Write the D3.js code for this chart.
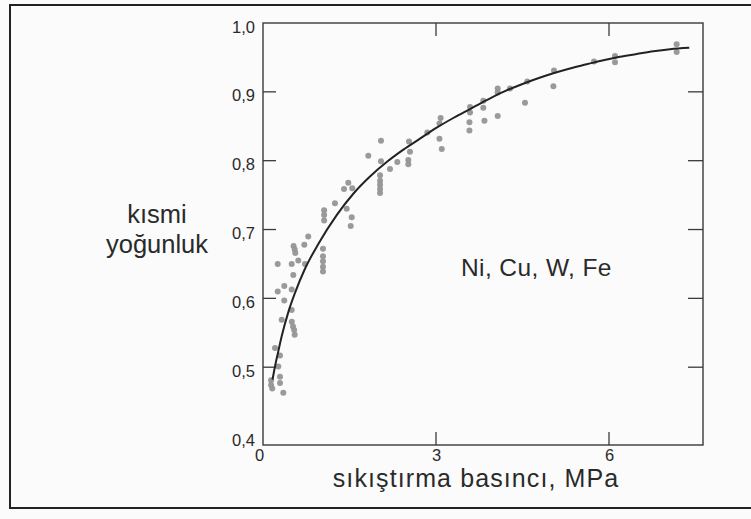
<!DOCTYPE html>
<html>
<head>
<meta charset="utf-8">
<script src="https://cdn.jsdelivr.net/npm/d3@7"></script>
<style>
  html, body { margin: 0; padding: 0; background: #fbfbfb; }
  svg { display: block; }
  text { font-family: "Liberation Sans", Arial, sans-serif; fill: #2a2a2a; }
</style>
</head>
<body>
<svg id="chart" width="751" height="519"></svg>
<script>
// Measured points: compaction pressure (MPa) and fractional density
const pressure = [
  0.14, 0.14, 0.16, 0.295, 0.295, 0.352, 0.265, 0.295, 0.208,
  0.50, 0.52, 0.54, 0.55, 0.324, 0.498, 0.369, 0.255, 0.498, 0.369, 0.525,
  0.255, 0.498, 0.728, 0.612, 0.53, 0.55, 0.56, 0.716, 0.785,
  1.04, 1.04, 1.04, 1.04, 1.04, 1.06, 1.06, 1.06,
  1.248, 1.405, 1.479, 1.548, 1.451, 1.538, 1.521,
  1.826, 2.046, 2.046, 2.03, 2.03, 2.03, 2.03, 2.03,
  2.202, 2.329, 2.532, 2.549, 2.52, 2.52,
  2.849, 3.06, 3.08, 3.06, 3.10,
  3.59, 3.59, 3.58, 3.58, 3.82, 3.82, 3.84,
  4.07, 4.07, 4.07, 4.283, 4.543, 4.583,
  5.046, 5.035, 5.74, 6.104, 6.104, 7.173, 7.173
];
const density = [
  0.481, 0.474, 0.469, 0.486, 0.477, 0.463, 0.501, 0.517, 0.528,
  0.566, 0.559, 0.554, 0.547, 0.569, 0.583, 0.597, 0.610, 0.613, 0.618, 0.634,
  0.650, 0.650, 0.650, 0.655, 0.676, 0.671, 0.666, 0.678, 0.690,
  0.672, 0.661, 0.654, 0.646, 0.639, 0.728, 0.721, 0.713,
  0.738, 0.759, 0.768, 0.760, 0.730, 0.718, 0.705,
  0.807, 0.829, 0.799, 0.779, 0.771, 0.765, 0.759, 0.753,
  0.788, 0.798, 0.828, 0.813, 0.801, 0.795,
  0.841, 0.854, 0.862, 0.832, 0.817,
  0.878, 0.870, 0.856, 0.844, 0.887, 0.877, 0.858,
  0.905, 0.899, 0.865, 0.905, 0.884, 0.915,
  0.931, 0.908, 0.944, 0.952, 0.943, 0.969, 0.958
];

// Smooth trend line through the data
const fitPressure = [
  0.165, 0.208, 0.265, 0.324, 0.439, 0.555, 0.728, 0.959, 1.278, 1.566,
  1.855, 2.145, 2.434, 2.722, 3.012, 3.30, 3.589, 3.879, 4.167, 4.456,
  4.746, 5.034, 5.323, 5.613, 5.901, 6.19, 6.48, 6.768, 7.058, 7.392
];
const fitDensity = [
  0.482, 0.501, 0.523, 0.545, 0.580, 0.608, 0.643, 0.679, 0.721, 0.752,
  0.777, 0.798, 0.816, 0.832, 0.848, 0.862, 0.875, 0.888, 0.900, 0.910,
  0.919, 0.927, 0.934, 0.940, 0.946, 0.951, 0.955, 0.959, 0.962, 0.964
];

const yTickValues = [0.4, 0.5, 0.6, 0.7, 0.8, 0.9, 1.0];
const yInnerTicks = [0.5, 0.6, 0.7, 0.8, 0.9];
const xTickValues = [0, 3, 6];
const xInnerTicks = [3, 6];

const yTitle = ["kısmi", "yoğunluk"];
const xTitle = "sıkıştırma basıncı, MPa";
const seriesNote = "Ni, Cu, W, Fe";

const svg = d3.select("#chart");

const x = d3.scaleLinear().domain([0, 7.63]).range([263, 703]);
const y = d3.scaleLinear().domain([0.387, 1.0]).range([445, 23]);

const comma = d3.formatLocale({ decimal: ",", thousands: ".", grouping: [3], currency: ["", ""] });
const fmtY = comma.format(".1f");

// outer figure border
svg.append("rect")
  .attr("x", 10).attr("y", 5)
  .attr("width", 760).attr("height", 503)
  .attr("fill", "none").attr("stroke", "#222").attr("stroke-width", 2);

// plot frame
const [x0, x1] = x.range();
const [yb, yt] = y.range();
svg.append("rect")
  .attr("x", x0).attr("y", yt)
  .attr("width", x1 - x0).attr("height", yb - yt)
  .attr("fill", "none").attr("stroke", "#3a3a3a").attr("stroke-width", 1.4);

// y axis labels
const yAxis = d3.axisLeft(y).tickValues(yTickValues).tickSize(0).tickPadding(8).tickFormat(fmtY);
const gy = svg.append("g").attr("transform", `translate(${x0},0)`).call(yAxis);
gy.select(".domain").remove();
gy.selectAll("text").attr("font-size", 16.5).attr("dy", "0.55em").style("font-family", '"Liberation Sans", Arial, sans-serif').attr("fill", "#2a2a2a");

// x axis labels
const xAxis = d3.axisBottom(x).tickValues(xTickValues).tickSize(0).tickPadding(4).tickFormat(d3.format("d"));
const gx = svg.append("g").attr("transform", `translate(0,${yb})`).call(xAxis);
gx.select(".domain").remove();
gx.selectAll("text").attr("font-size", 16.5).attr("dx", d => d === 0 ? -4 : 0).style("font-family", '"Liberation Sans", Arial, sans-serif').attr("fill", "#2a2a2a");

// inward tick marks on all four sides
const tickLen = 13;
const ticks = svg.append("g").attr("stroke", "#3a3a3a").attr("stroke-width", 1.3);
yInnerTicks.forEach(v => {
  ticks.append("line").attr("x1", x0).attr("x2", x0 + tickLen).attr("y1", y(v)).attr("y2", y(v));
  ticks.append("line").attr("x1", x1).attr("x2", x1 - tickLen - 2).attr("y1", y(v)).attr("y2", y(v));
});
xInnerTicks.forEach(v => {
  ticks.append("line").attr("x1", x(v)).attr("x2", x(v)).attr("y1", yb).attr("y2", yb - tickLen);
  ticks.append("line").attr("x1", x(v)).attr("x2", x(v)).attr("y1", yt).attr("y2", yt + tickLen);
});

// data points
const pts = d3.zip(pressure, density);
svg.append("g").selectAll("circle").data(pts).join("circle")
  .attr("cx", d => x(d[0])).attr("cy", d => y(d[1]))
  .attr("r", 3)
  .attr("fill", "#959595").attr("fill-opacity", 0.95);

// trend curve
const line = d3.line().x(d => x(d[0])).y(d => y(d[1])).curve(d3.curveMonotoneX);
svg.append("path")
  .datum(d3.zip(fitPressure, fitDensity))
  .attr("d", line)
  .attr("fill", "none").attr("stroke", "#222").attr("stroke-width", 2);

// axis titles
svg.append("text")
  .attr("x", 157).attr("text-anchor", "middle").attr("font-size", 25.5)
  .selectAll("tspan").data(yTitle).join("tspan")
  .attr("x", 157).attr("y", (d, i) => 223 + i * 30).text(d => d);

svg.append("text")
  .attr("x", 476).attr("y", 487).attr("text-anchor", "middle")
  .attr("font-size", 25).attr("letter-spacing", 1.1)
  .text(xTitle);

svg.append("text")
  .attr("x", 461).attr("y", 276)
  .attr("font-size", 24.5).attr("letter-spacing", 0.4)
  .text(seriesNote);
</script>
</body>
</html>
